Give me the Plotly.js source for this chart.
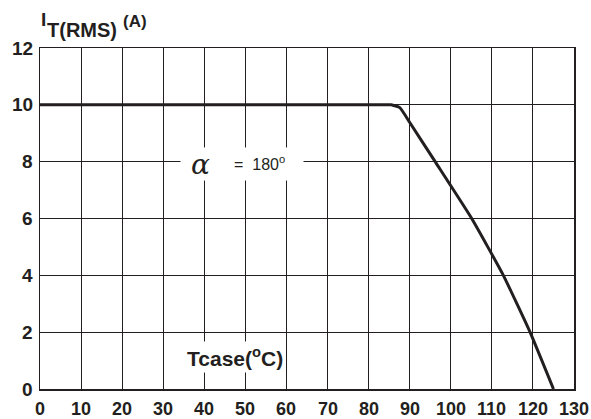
<!DOCTYPE html>
<html>
<head>
<meta charset="utf-8">
<script src="https://cdn.plot.ly/plotly-3.0.1.min.js"></script>
<style>html,body{margin:0;padding:0;background:#fff;}#chart{width:591px;height:419px;}</style>
</head>
<body>
<div id="chart"></div>
<script>
// Data
var tcase = [0, 40, 80, 85.5, 87.6, 90.1, 96.2, 105.1, 112.8, 119.3, 125.0];
var itrms = [10, 10, 10, 10, 9.9, 9.36, 8, 6, 4, 2, 0];
var xTicks = [0, 10, 20, 30, 40, 50, 60, 70, 80, 90, 100, 110, 120, 130];
var yTicks = [0, 2, 4, 6, 8, 10, 12];

var L = 40, T = 48, W = 534, H = 341;
function px(x){ return (x - L) / W; }
function py(y){ return (T + H - y) / H; }

var fam = 'Arial, "Liberation Sans", sans-serif';
var ink = '#231f20';

var trace = {
  x: tcase, y: itrms, mode: 'lines', type: 'scatter',
  line: {color: ink, width: 3, shape: 'spline', smoothing: 0.4}, hoverinfo: 'none', showlegend: false
};

var annotations = [];
// tick labels, placed through the axes' own scales
xTicks.forEach(function(v){
  annotations.push({xref: 'x', yref: 'paper', x: v, y: 0, yshift: -20, xanchor: 'center', yanchor: 'middle',
    text: '<b>' + v + '</b>', showarrow: false, font: {family: fam, size: 18, color: ink}});
});
yTicks.forEach(function(v){
  annotations.push({xref: 'paper', yref: 'y', x: 0, y: v, xshift: -5, xanchor: 'right', yanchor: 'middle',
    text: '<b>' + v + '</b>', showarrow: false, font: {family: fam, size: 19, color: ink}});
});
annotations = annotations.concat([
  {xref: 'paper', yref: 'paper', x: px(39), y: py(19), xanchor: 'left', yanchor: 'middle',
   text: '<b>I</b>', showarrow: false, font: {family: fam, size: 19, color: ink}},
  {xref: 'paper', yref: 'paper', x: px(45), y: py(30), xanchor: 'left', yanchor: 'middle',
   text: '<b>T(RMS)</b>', showarrow: false, font: {family: fam, size: 20, color: ink}},
  {xref: 'paper', yref: 'paper', x: px(121), y: py(21), xanchor: 'left', yanchor: 'middle',
   text: '<b>(A)</b>', showarrow: false, font: {family: fam, size: 17, color: ink}},
  {xref: 'paper', yref: 'paper', x: px(180), y: py(164), xanchor: 'left', yanchor: 'middle',
   text: ' <i>α</i>      ', showarrow: false, bgcolor: '#fff', width: 120, height: 30, align: 'left',
   font: {family: '"DejaVu Serif", serif', size: 28, color: ink}},
  {xref: 'paper', yref: 'paper', x: px(232), y: py(163), xanchor: 'left', yanchor: 'middle',
   text: '=  180<sup>o</sup>', showarrow: false,
   font: {family: fam, size: 16, color: ink}},
  {xref: 'paper', yref: 'paper', x: px(184), y: py(357), xanchor: 'left', yanchor: 'middle',
   text: '<b>Tcase(<sup>o</sup>C)</b>', showarrow: false, bgcolor: '#fff', borderpad: 2,
   font: {family: fam, size: 21, color: ink}}
]);

var layout = {
  width: 591, height: 419,
  margin: {l: L, r: 591 - L - W, t: T, b: 419 - T - H},
  paper_bgcolor: '#fff', plot_bgcolor: '#fff',
  font: {family: fam, color: ink},
  xaxis: {
    range: [0, 130], tickvals: xTicks, showticklabels: false,
    showgrid: true, gridcolor: ink, gridwidth: 1,
    showline: true, linecolor: ink, linewidth: 1.5, mirror: true,
    ticks: '', zeroline: false
  },
  yaxis: {
    range: [0, 12], tickvals: yTicks, showticklabels: false,
    showgrid: true, gridcolor: ink, gridwidth: 1,
    showline: true, linecolor: ink, linewidth: 1.5, mirror: true,
    ticks: '', zeroline: false
  },
  annotations: annotations
};

Plotly.newPlot('chart', [trace], layout, {staticPlot: true, displayModeBar: false});
</script>
</body>
</html>
